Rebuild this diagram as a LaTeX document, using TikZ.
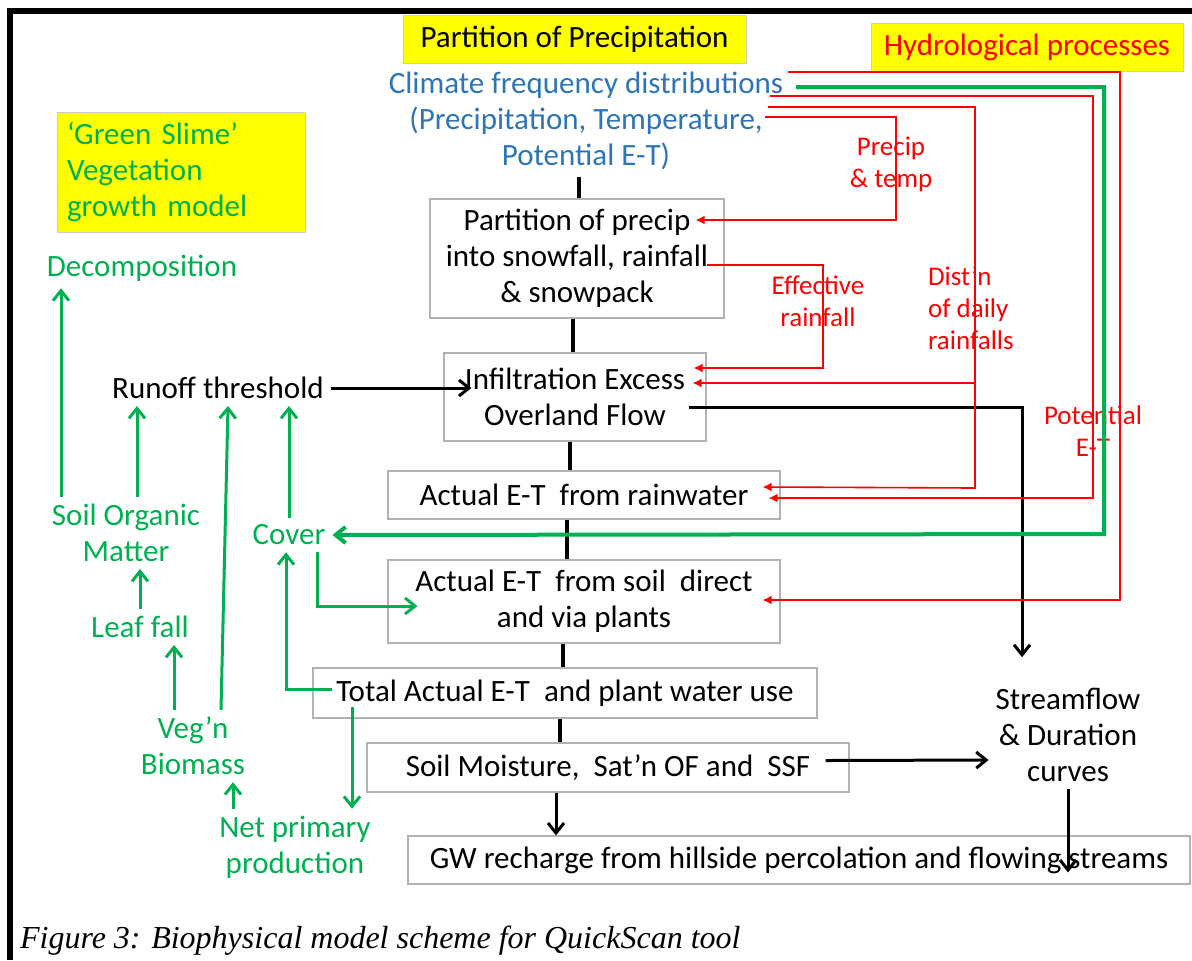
\documentclass[tikz,border=0pt]{standalone}
\usepackage{fontspec}
\setmainfont{Carlito}
\newfontfamily\legende{Liberation Serif}
\usetikzlibrary{arrows.meta,calc}
\definecolor{vertq}{HTML}{00B050}
\definecolor{rougeq}{HTML}{FF0000}
\definecolor{bleuq}{HTML}{2E75B6}
\definecolor{jauneq}{HTML}{FFFF00}
\begin{document}
\begin{tikzpicture}[x=0.5pt, y=-0.5pt, >=latex, font=\fontsize{15.5}{18}\selectfont]
	\tikzstyle{bloc} = [rectangle, draw=black!30, line width=0.6pt, fill=white, align=center, inner sep=2pt]
	\tikzstyle{titre} = [rectangle, draw=black!20, line width=0.5pt, fill=jauneq, align=center, inner sep=2pt]
	\tikzstyle{etiqv} = [text=vertq, align=center]
	\tikzstyle{etiqr} = [text=rougeq, align=center, font=\fontsize{13.5}{16}\selectfont]
	\tikzstyle{axe} = [draw=black, line width=2pt]
	\tikzstyle{flnoir} = [draw=black, line width=1.5pt, -{Straight Barb[length=5pt,width=8pt]}]
	\tikzstyle{flvert} = [draw=vertq, line width=1.5pt, -{Straight Barb[length=5pt,width=8pt]}]
	\tikzstyle{flrouge} = [draw=rougeq, line width=0.8pt, -{Latex[length=4.5pt,width=4.5pt]}]
	\useasboundingbox (0,0) rectangle (1192,960);
	\draw[line width=3pt] (10,960) -- (10,11) -- (1192,11);
	% titres
	\node[titre, minimum width=171.5pt, minimum height=24pt] (t_part) at (574.5,39) {Partition of Precipitation};
	\node[titre, text=rougeq, minimum width=156pt, minimum height=24pt] (t_hydro) at (1027,47) {Hydrological processes};
	\node[titre, text=vertq, align=left, inner xsep=5pt, text width=114pt, minimum height=60pt] (t_slime) at (181,172) {‘Green Slime’\\ Vegetation\\ growth model};
	\node[text=bleuq, align=center] (clim) at (586,121) {Climate frequency distributions\\ (Precipitation, Temperature,\\ Potential E-T)};
	% blocs
	\node[bloc, minimum width=147pt, minimum height=59.5pt] (part_prec) at (577,258.5) {Partition of precip\\ into snowfall, rainfall\\ \& snowpack};
	\node[bloc, minimum width=131pt, minimum height=44pt] (infil) at (575,397) {Infiltration Excess\\ Overland Flow};
	\node[bloc, minimum width=196pt, minimum height=24pt] (et_pluie) at (584,495) {Actual E-T\ \ from rainwater};
	\node[bloc, minimum width=196pt, minimum height=41.5pt] (et_sol) at (584,601.5) {Actual E-T\ \ from soil\ \ direct\\ and via plants};
	\node[bloc, minimum width=252pt, minimum height=25pt] (et_tot) at (565,693) {Total Actual E-T\ \ and plant water use};
	\node[bloc, minimum width=241pt, minimum height=24.5pt] (hum_sol) at (608,767.5) {Soil Moisture,\ \ Sat’n OF and\ \ SSF};
	\node[bloc, minimum width=391pt, minimum height=24pt] (gw) at (799,860) {GW recharge from hillside percolation and flowing streams};
	\node[align=center] (debit) at (1068,735) {Streamflow\\ \& Duration\\ curves};
	\node (seuil) at (218,388) {Runoff threshold};
	% vegetation
	\node[etiqv] (decomp) at (142,268) {Decomposition};
	\node[etiqv] (mat_org) at (126,533) {Soil Organic\\ Matter};
	\node[etiqv] (couv) at (289,535) {Cover};
	\node[etiqv] (litiere) at (140,627) {Leaf fall};
	\node[etiqv] (biomasse) at (193,746) {Veg’n\\ Biomass};
	\node[etiqv] (npp) at (295,847) {Net primary\\ production};
	% etiquettes hydro
	\node[etiqr] (l_prec) at (891,164) {Precip\\ \& temp};
	\node[etiqr] (l_eff) at (818,301) {Effective\\ rainfall};
	\node[etiqr, align=left, anchor=west] (l_dist) at (921,308) {Dist’n\\ of daily\\ rainfalls};
	\node[etiqr] (l_etp) at (1093,431) {Potential\\ E-T};
	\node[anchor=base west, font=\legende\itshape\fontsize{16}{19}\selectfont] (legende) at (13,948) {Figure 3: Biophysical model scheme for QuickScan tool};
	\coordinate (s_etp1) at (788,72);
	\coordinate (s_vert) at (796,87);
	\coordinate (s_etp2) at (770,96);
	\coordinate (s_dist) at (768,107);
	\coordinate (s_prec) at (765,117);
	\coordinate (j_dist) at (975,383);
	% axe central
	\draw[axe] (clim.south -| 579,0) -- (part_prec.north -| 579,0);
	\draw[axe] (part_prec.south -| 573,0) -- (infil.north -| 573,0);
	\draw[axe] (infil.south -| 570,0) -- (et_pluie.north -| 570,0);
	\draw[axe] (et_pluie.south -| 567,0) -- (et_sol.north -| 567,0);
	\draw[axe] (et_sol.south -| 563,0) -- (et_tot.north -| 563,0);
	\draw[axe] (et_tot.south -| 560,0) -- (hum_sol.north -| 560,0);
	\draw[flnoir] (hum_sol.south -| 556,0) -- (gw.north -| 556,0);
	% ecoulement
	\draw[flnoir] (seuil.east) -- ($(infil.west |- seuil.east)+(28,0)$);
	\draw[flnoir] ($(infil.east)+(-18,10)$) -| ($(debit.north)+(-46,-24)$);
	\draw[flnoir] ($(hum_sol.east)+(-24,-7)$) -- ($(debit.west)+(0,25)$);
	\draw[flnoir] (debit.south) -- ($(gw.north -| debit.south)+(0,37)$);
	% processus hydrologiques
	\draw[flrouge] (s_prec) -| (896,220) -- ($(part_prec.east)+(-29,-38.5)$);
	\draw[flrouge] ($(part_prec.east)+(-18,6.5)$) -| (823,368) -- ($(infil.east)+(-13,-29)$);
	\draw[flrouge] (s_dist) -| (975,488) -- ($(et_pluie.east)+(-18,-8)$);
	\draw[flrouge] (j_dist) -- ($(infil.east)+(-14,-14)$);
	\draw[flrouge] (s_etp2) -| (1093,498) -- ($(et_pluie.east)+(-12,3)$);
	\draw[flrouge] (s_etp1) -| (1120,600) -- ($(et_sol.east)+(-18,-1.5)$);
	% vegetation
	\draw[flvert, line width=2pt] (s_vert) -| (1104,534) -- (couv.east);
	\draw[flvert] (mat_org.north -| 61,0) -- (decomp.south -| 61,0);
	\draw[flvert] (mat_org.north -| 137,0) -- (seuil.south -| 137,0);
	\draw[flvert] (biomasse.north -| 221,0) -- (seuil.south -| 228,0);
	\draw[flvert] (couv.north) -- (seuil.south -| couv.north);
	\draw[flvert] ($(et_tot.west)+(20,-4)$) -| ($(couv.south)+(-3,0)$);
	\draw[flvert] ($(couv.south)+(28,0)$) |- ($(et_sol.west)+(30,4.5)$);
	\draw[flvert] (litiere.north) -- (mat_org.south -| litiere.north);
	\draw[flvert] (biomasse.north -| 174,0) -- (litiere.south -| 174,0);
	\draw[flvert] (npp.north -| 233,0) -- (biomasse.south -| 233,0);
	\draw[flvert] ($(et_tot.south -| 352,0)+(0,-12)$) -- (npp.north -| 352,0);
\end{tikzpicture}
\end{document}
